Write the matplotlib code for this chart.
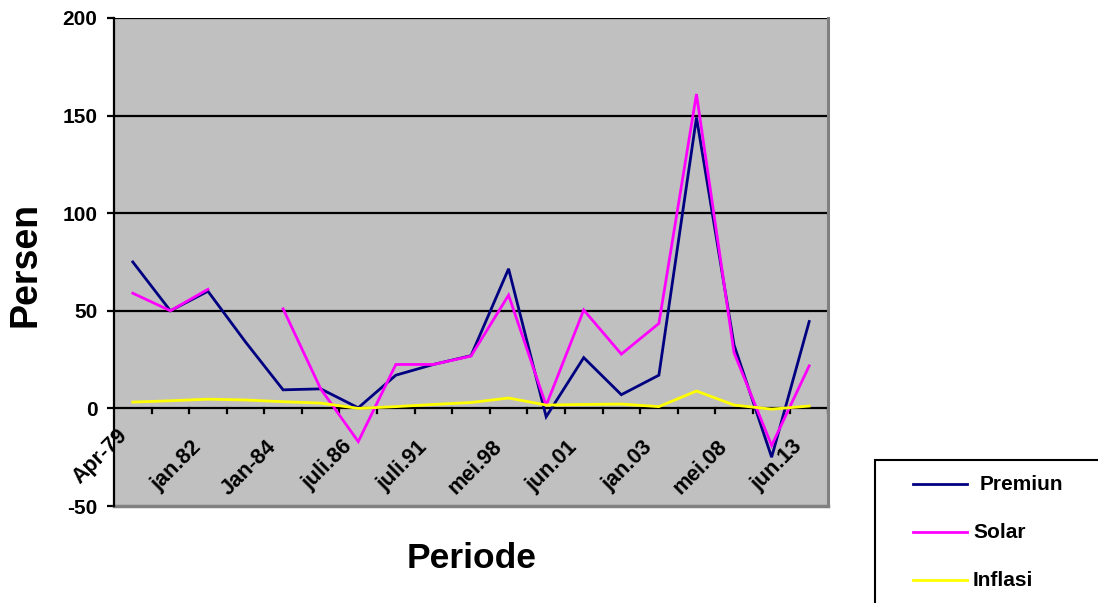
import numpy as np
import matplotlib
matplotlib.use('Agg')
import matplotlib.pyplot as plt
from matplotlib.lines import Line2D
from matplotlib.patches import Rectangle
import matplotlib.transforms as mtransforms

plt.rcParams['font.family'] = ['Liberation Sans', 'DejaVu Sans']
plt.rcParams['font.weight'] = 'bold'
plt.rcParams['axes.unicode_minus'] = False

# ---- data ----
n_periods = 19
tick_labels = ['Apr-79', 'jan.82', 'Jan-84', 'juli.86', 'juli.91',
               'mei.98', 'jun.01', 'jan.03', 'mei.08', 'jun.13']
premium = [75, 50, 60, 34, 9.5, 10, 0.3, 17, 22.5, 27, 71.5, -4.3, 26, 7,
           17, 149, 32.5, -25, 44.5]
solar = [59, 50, 61, np.nan, 51, 10, -17, 22.5, 22.5, 26.8, 58, 1.5, 50.4,
         27.8, 43.5, 161, 28.5, -19, 21.8]
inflasi = [3.2, 3.9, 4.7, 4.3, 3.4, 2.7, 0, 0.9, 2, 3, 5.3, 1.7, 2, 2.2,
           0.9, 8.9, 1.7, -0.4, 1.2]
series_names = ['Premiun', 'Solar', 'Inflasi']
series_colors = ['#000080', '#FF00FF', '#FFFF00']

W, H = 1098, 603
fig = plt.figure(figsize=(W / 100, H / 100), dpi=100)
fig.patch.set_facecolor('white')

x0, x1, y0, y1 = 114, 828, 17.9, 506
ax = fig.add_axes([x0 / W, (H - y1) / H, (x1 - x0) / W, (y1 - y0) / H])
ax.set_facecolor('#C0C0C0')

x = np.arange(n_periods)
for vals, name, col in zip([premium, solar, inflasi], series_names, series_colors):
    ax.plot(x, vals, color=col, lw=2.0, label=name, solid_joinstyle='miter', zorder=3)

ax.set_xlim(-0.5, n_periods - 0.5)
ax.set_ylim(-50, 200)

# gridlines
ax.set_yticks([-50, 0, 50, 100, 150, 200])
for yv in [50, 100, 150, 200]:
    ax.axhline(yv, color='black', lw=1.6, zorder=1)

# spines
ax.spines['top'].set_visible(False)
ax.spines['right'].set_color('#808080')
ax.spines['right'].set_linewidth(2.2)
ax.spines['left'].set_color('black')
ax.spines['left'].set_linewidth(1.6)
ax.spines['left'].set_zorder(5)
ax.spines['bottom'].set_visible(False)
ax.plot([0, 1], [0, 0], transform=ax.transAxes, color='#808080', lw=2.5,
        clip_on=False, zorder=4)
# category axis at zero with tick marks between categories
ax.axhline(0, color='black', lw=1.6, zorder=2)
ax.set_xticks([])
for b in np.arange(0.5, n_periods, 1.0):
    ax.plot([b, b], [0, -2.3], color='black', lw=1.6, zorder=2, clip_on=False)

ax.tick_params(axis='y', direction='out', length=5, width=1.6, pad=7,
               labelsize=15)
for lab in ax.get_yticklabels():
    lab.set_fontweight('bold')

# x tick labels, every second period
for k, lab in enumerate(tick_labels):
    dx, dy = (-16, -17) if k == 0 else (-17, -28)
    offset = mtransforms.ScaledTranslation(dx / 100, dy / 100, fig.dpi_scale_trans)
    ax.text(2 * k, 0, lab, rotation=45, ha='right', va='top',
            rotation_mode='anchor', fontsize=15.5, fontweight='bold',
            transform=ax.transData + offset)

fig.text(26 / W, 1 - 264 / H, 'Persen', rotation=90, ha='center', va='center',
         fontsize=27, fontweight='bold')
fig.text(472 / W, 1 - 568 / H, 'Periode', ha='center', va='baseline',
         fontsize=25.5, fontweight='bold')

# legend box (partially outside figure)
lx0, ly0 = 875, 460
fig.patches.append(Rectangle((lx0 / W, -0.05), (W - lx0 + 20) / W, 1.05 - ly0 / H,
                             transform=fig.transFigure, facecolor='white',
                             edgecolor='black', lw=1.5))
label_x = [980, 973, 973]
for i, (name, col) in enumerate(zip(series_names, series_colors)):
    yy = 1 - (484 + 48 * i) / H
    fig.add_artist(Line2D([913 / W, 967 / W], [yy, yy], color=col, lw=2,
                          transform=fig.transFigure))
    fig.text(label_x[i] / W, yy, name, ha='left', va='center', fontsize=15,
             fontweight='bold')

fig.savefig('out.png', dpi=100)
